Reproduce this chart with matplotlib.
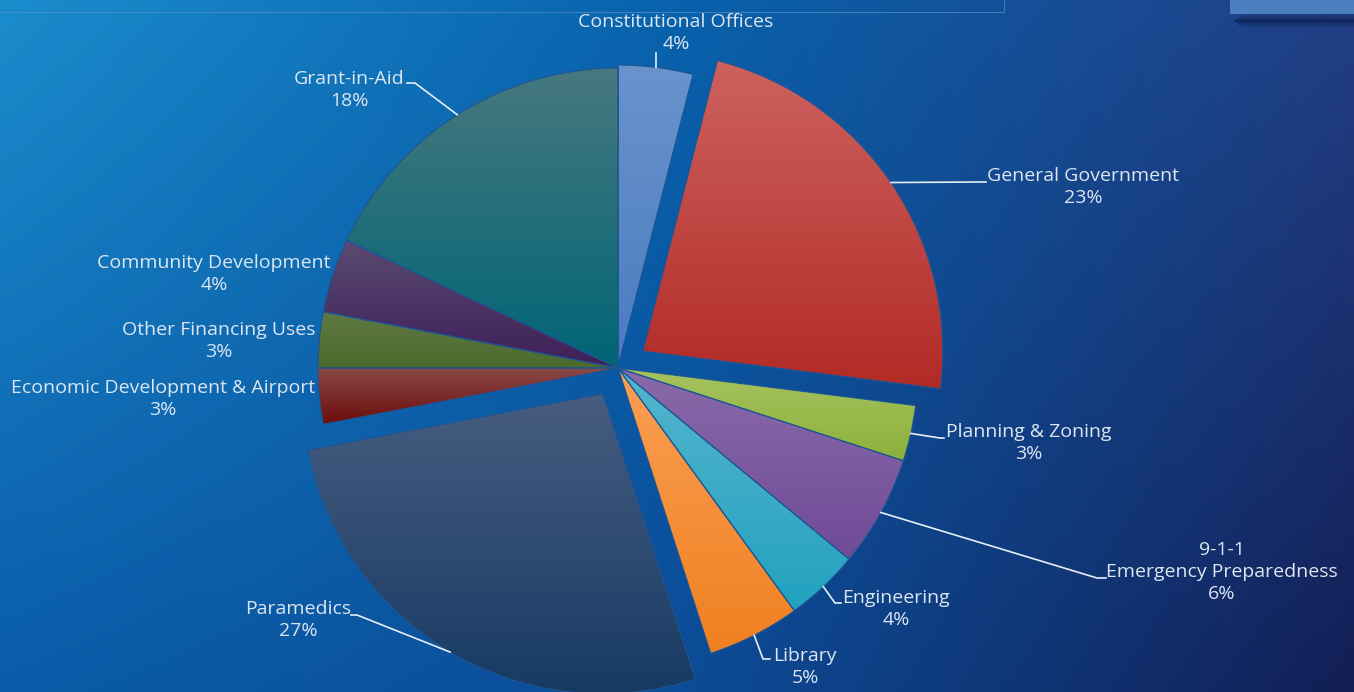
import numpy as np
import matplotlib.pyplot as plt
from matplotlib.colors import to_rgb
from matplotlib.patches import Rectangle

plt.rcParams['font.family'] = ['Open Sans', 'DejaVu Sans']

W, H = 1354, 692

categories = ['Constitutional Offices', 'General Government', 'Planning & Zoning',
              '9-1-1\nEmergency Preparedness', 'Engineering', 'Library', 'Paramedics',
              'Economic Development & Airport', 'Other Financing Uses',
              'Community Development', 'Grant-in-Aid']
shares = [4, 23, 3, 6, 4, 5, 27, 3, 3, 4, 18]

top_colors = ['#6a93cc', '#cd625f', '#a5c35f', '#8a6aaa', '#55b5cd', '#fa9f55',
              '#475d80', '#8a4a48', '#5f7a45', '#5a4a72', '#47787f']
bottom_colors = ['#4a7cc0', '#b22a26', '#8db03b', '#6f4b96', '#22a2c0', '#f08020',
                 '#173a63', '#6c0d0c', '#4c6a2c', '#3d1f58', '#006575']
explode = [3, 30, 0, 0, 0, 0, 30, 0, 0, 0, 0]

# label block centres and leader elbows, in pixel coords measured from the top
label_pos = [(676, 33), (1083, 187), (1029, 443), (1222, 572), (896, 609), (805, 667),
             (298, 620), (163, 399), (219, 341), (214, 274), (349, 90)]
leaders = [[(656, 53)], [(980, 182), (986, 182)], [(940, 438), (944, 438)],
           [(1097, 578), (1106, 578)], [(835, 603), (841, 603)], [(763, 659), (770, 659)],
           [(357, 615), (351, 615)], None, None, None, [(415, 83), (407, 83)]]

text_color = '#dde6f0'


def flip(y):
    return H - y


def vgradient(c_top, c_bot, n=256):
    t = np.linspace(0, 1, n)[:, None]
    a, b = np.array(to_rgb(c_bot)), np.array(to_rgb(c_top))
    return (a[None, :] * (1 - t) + b[None, :] * t)[:, None, :]


fig = plt.figure(figsize=(W / 100, H / 100), dpi=100)
ax = fig.add_axes([0, 0, 1, 1])

# slide background: light blue on the left fading to navy on the right
xs = np.linspace(0, 1, 200)
ys = np.linspace(0, 1, 100)[:, None]
cols = [('#1a8ccc', '#0a5ca8'), ('#0862ac', '#0c4c98'), ('#223f86', '#121f55')]
bg = np.zeros((100, 200, 3))
for i, x in enumerate(xs):
    if x <= 0.5:
        f = x / 0.5
        top = np.array(to_rgb(cols[0][0])) * (1 - f) + np.array(to_rgb(cols[1][0])) * f
        bot = np.array(to_rgb(cols[0][1])) * (1 - f) + np.array(to_rgb(cols[1][1])) * f
    else:
        f = (x - 0.5) / 0.5
        top = np.array(to_rgb(cols[1][0])) * (1 - f) + np.array(to_rgb(cols[2][0])) * f
        bot = np.array(to_rgb(cols[1][1])) * (1 - f) + np.array(to_rgb(cols[2][1])) * f
    bg[:, i, :] = bot[None, :] * (1 - ys) + top[None, :] * ys
ax.imshow(bg, extent=[0, W, 0, H], origin='lower', aspect='auto', zorder=0,
          interpolation='bilinear')

# title bar remnants along the top edge
ax.plot([0, 1004, 1004], [flip(12), flip(12), H], color='#4f8fc8', lw=0.8, alpha=0.7, zorder=1)
ax.add_patch(Rectangle((1230, flip(14)), W - 1230, 14, facecolor='#4a80c0',
                       edgecolor='none', zorder=1))
for k, a in enumerate([0.1, 0.2, 0.32, 0.45, 0.55, 0.45, 0.32, 0.2, 0.1]):
    ax.add_patch(Rectangle((1234 + 2 * abs(k - 4), flip(14 + 1.5 * k) - 1.5),
                           W - 1234, 1.5, facecolor='#06133a', edgecolor='none',
                           alpha=a, zorder=1))

wedges, _ = ax.pie(shares, explode=explode, startangle=90, counterclock=False,
                   radius=300, center=(618, flip(368)), frame=True,
                   wedgeprops=dict(edgecolor='#1d5595', linewidth=0.8))

for w, ct, cb in zip(wedges, top_colors, bottom_colors):
    ext = w.get_path().get_extents()
    im = ax.imshow(vgradient(ct, cb), extent=[ext.x0, ext.x1, ext.y0, ext.y1],
                   origin='lower', aspect='auto', interpolation='bilinear', zorder=2)
    im.set_clip_path(w)
    w.set_facecolor('none')
    w.set_zorder(3)

for w, name, share, pos, lead in zip(wedges, categories, shares, label_pos, leaders):
    ax.text(pos[0], flip(pos[1]), f'{name}\n{share}%', ha='center', va='center',
            multialignment='center', color=text_color, fontsize=14, linespacing=1.28,
            zorder=5)
    if lead:
        mid = np.deg2rad((w.theta1 + w.theta2) / 2)
        x0 = w.center[0] + w.r * np.cos(mid)
        y0 = w.center[1] + w.r * np.sin(mid)
        px = [x0] + [p[0] for p in lead]
        py = [y0] + [flip(p[1]) for p in lead]
        ax.plot(px, py, color='#e6eef6', lw=1.2, zorder=4)

ax.set_xlim(0, W)
ax.set_ylim(0, H)
ax.set_aspect('auto')
ax.axis('off')

fig.savefig('out.png', dpi=100)
